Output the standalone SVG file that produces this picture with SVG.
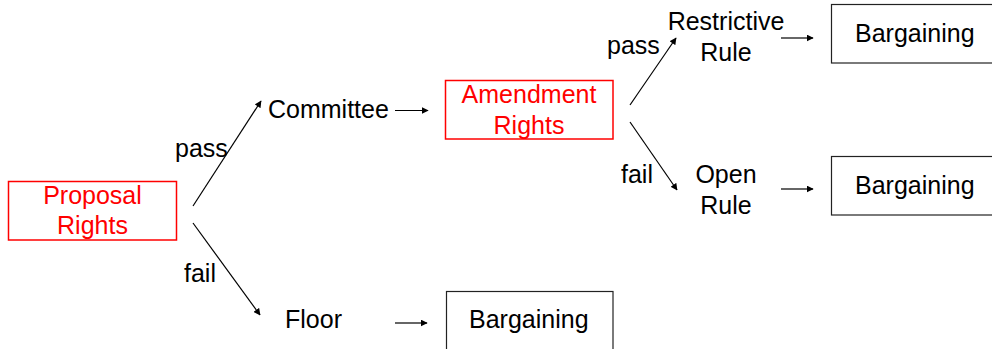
<svg xmlns="http://www.w3.org/2000/svg" width="992" height="349" viewBox="0 0 992 349">
  <style>
    text { font-family: "Liberation Sans", Arial, sans-serif; font-size: 25px; fill: #000; }
    .red { fill: #ff0000; }
    .mid { text-anchor: middle; }
    .rbox { fill: #fff; stroke: #ff0000; stroke-width: 1.5; }
    .bbox { fill: #fff; stroke: #222; stroke-width: 1.2; }
    .edge { stroke: #000; stroke-width: 1.2; fill: none; marker-end: url(#arrow); }
  </style>
  <defs>
    <marker id="arrow" viewBox="0 0 10 10" refX="9" refY="5" markerWidth="7" markerHeight="7" markerUnits="userSpaceOnUse" orient="auto">
      <path d="M0,0 L10,5 L0,10 z" fill="#000"/>
    </marker>
  </defs>

  <rect width="992" height="349" fill="#fff"/>

  <g id="connectors">
    <line class="edge" x1="193" y1="206" x2="261" y2="101"/>
    <line class="edge" x1="193" y1="223" x2="260" y2="315"/>
    <line class="edge" x1="395" y1="110.5" x2="428" y2="110.5"/>
    <line class="edge" x1="630" y1="105" x2="676" y2="38"/>
    <line class="edge" x1="630" y1="122" x2="677" y2="190"/>
    <line class="edge" x1="781" y1="38" x2="813" y2="38"/>
    <line class="edge" x1="781" y1="189" x2="813" y2="189"/>
    <line class="edge" x1="395" y1="323" x2="427" y2="323"/>
    <text x="175" y="157">pass</text>
    <text x="184" y="282">fail</text>
    <text x="607" y="54">pass</text>
    <text x="621" y="183">fail</text>
  </g>

  <g id="proposal-rights">
    <rect class="rbox" x="8.5" y="181.5" width="168" height="58.5"/>
    <text class="red mid" x="92.5" y="204">Proposal</text>
    <text class="red mid" x="92.5" y="234">Rights</text>
  </g>

  <g id="committee">
    <text x="268" y="118">Committee</text>
  </g>

  <g id="amendment-rights">
    <rect class="rbox" x="445.5" y="80.5" width="167.5" height="58.5"/>
    <text class="red mid" x="529" y="103">Amendment</text>
    <text class="red mid" x="529" y="134">Rights</text>
  </g>

  <g id="restrictive-rule">
    <text class="mid" x="726" y="30">Restrictive</text>
    <text class="mid" x="726" y="61">Rule</text>
  </g>

  <g id="open-rule">
    <text class="mid" x="726" y="183">Open</text>
    <text class="mid" x="726" y="214">Rule</text>
  </g>

  <g id="floor">
    <text x="285" y="328">Floor</text>
  </g>

  <g id="bargaining-restrictive">
    <rect class="bbox" x="831.5" y="4.5" width="180" height="58.5"/>
    <text x="855" y="42">Bargaining</text>
  </g>

  <g id="bargaining-open">
    <rect class="bbox" x="831.5" y="156.5" width="180" height="58.5"/>
    <text x="855" y="194">Bargaining</text>
  </g>

  <g id="bargaining-floor">
    <rect class="bbox" x="446.5" y="291.5" width="166.5" height="70"/>
    <text x="469" y="328">Bargaining</text>
  </g>
</svg>
